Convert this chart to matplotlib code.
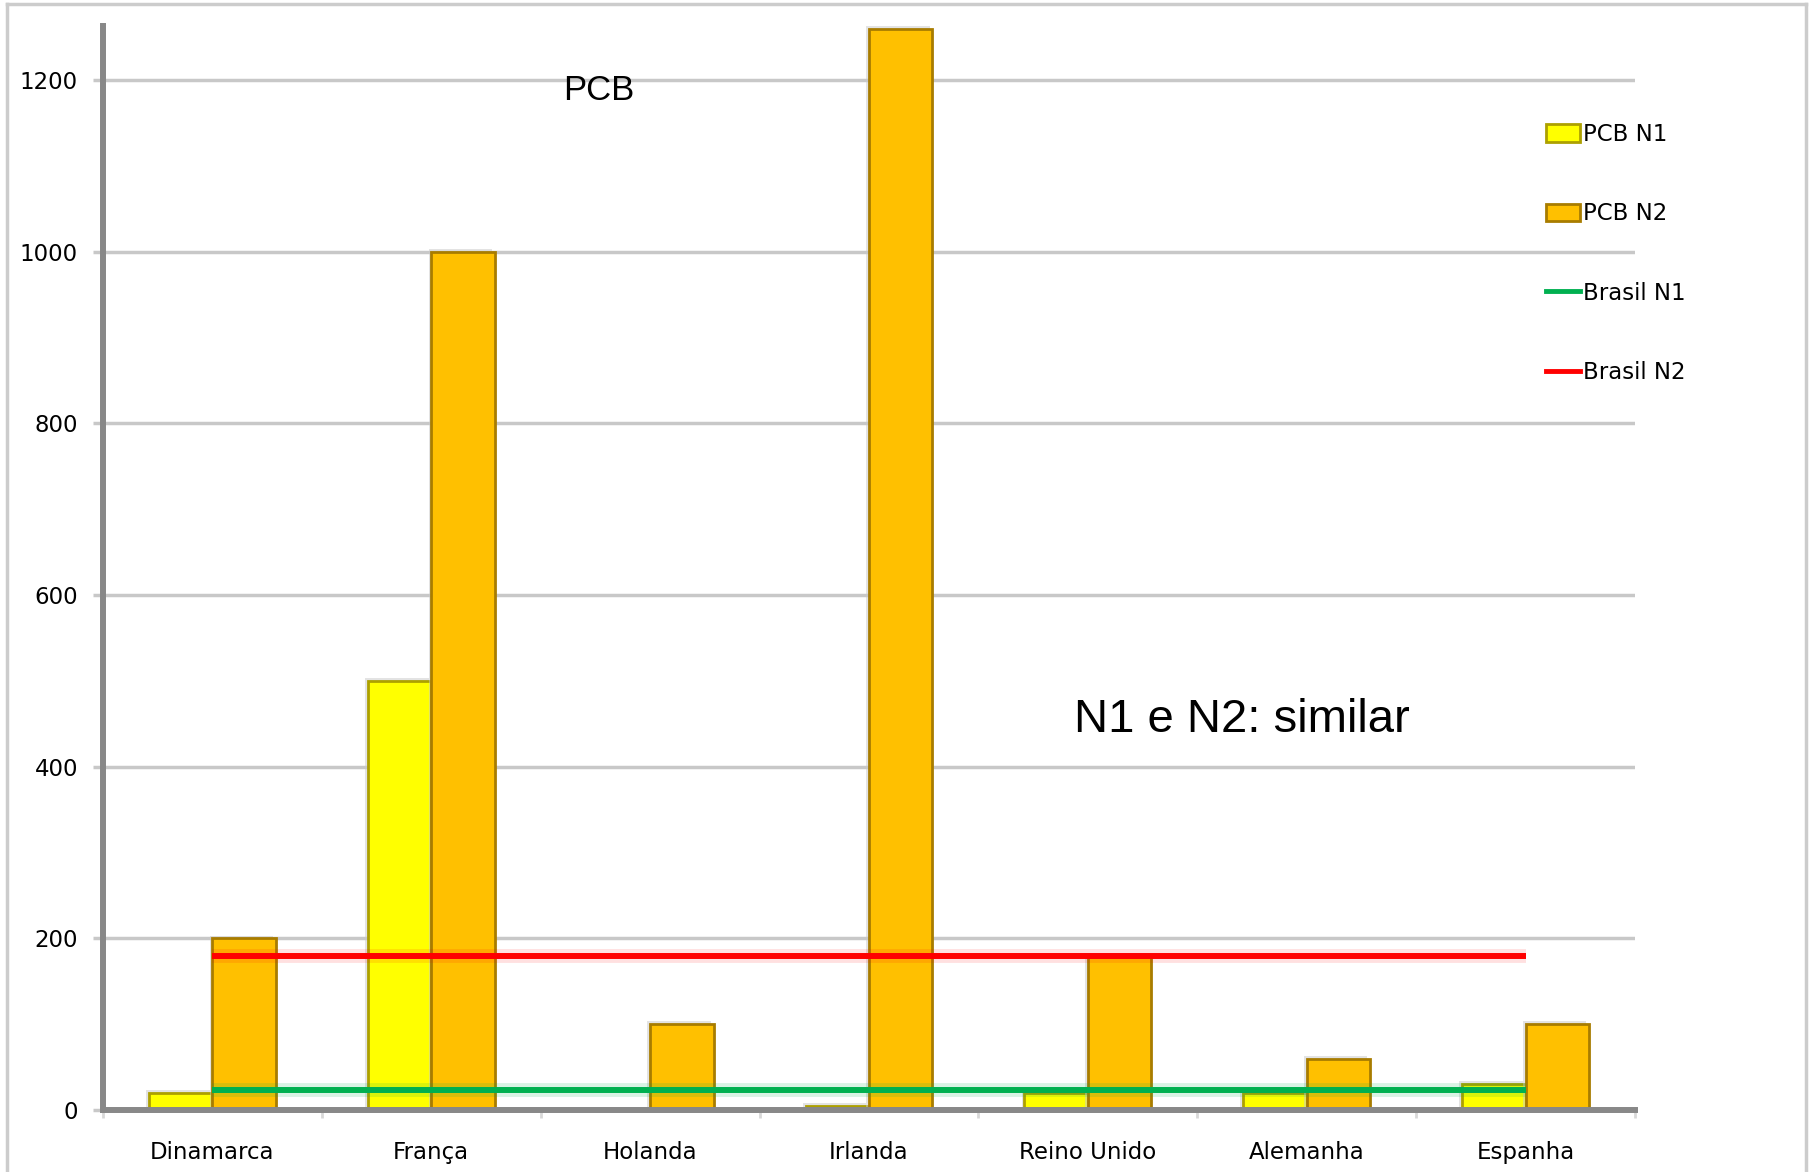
import matplotlib
matplotlib.use("Agg")
import numpy as np
import matplotlib.pyplot as plt
import matplotlib.patheffects as pe
from matplotlib.lines import Line2D
from matplotlib.patches import Patch

# data
countries = ["Dinamarca", "França", "Holanda", "Irlanda", "Reino Unido", "Alemanha", "Espanha"]
pcb_n1 = [20, 500, 0, 5, 20, 20, 30]
pcb_n2 = [200, 1000, 100, 1260, 180, 60, 100]
brasil_n1 = 23
brasil_n2 = 180
y_ticks = [0, 200, 400, 600, 800, 1000, 1200]
legend_labels = ["PCB N1", "PCB N2", "Brasil N1", "Brasil N2"]

W, H = 1812, 1172
fig = plt.figure(figsize=(W / 100, H / 100), dpi=100)
ax = fig.add_axes([103 / W, 62 / H, (1635 - 103) / W, (1110 - 26) / H])

c_n1, e_n1 = "#FFFF00", "#ADA000"
c_n2, e_n2 = "#FFC000", "#A87C00"
c_green, c_red = "#00B050", "#FF0000"

x = np.arange(len(countries))
w = 0.29
shadow = [pe.SimplePatchShadow(offset=(-2, 2), shadow_rgbFace="#c8c8c8", alpha=0.5), pe.Normal()]
ax.bar(x - w / 2, pcb_n1, w, color=c_n1, edgecolor=e_n1, linewidth=2, zorder=2,
       path_effects=shadow)
ax.bar(x + w / 2, pcb_n2, w, color=c_n2, edgecolor=e_n2, linewidth=2, zorder=2,
       path_effects=shadow)

# Brasil reference levels, drawn across the category centres
ax.plot([x[0], x[-1]], [brasil_n1] * 2, color=c_green, lw=10, alpha=0.15,
        solid_capstyle="butt", zorder=3)
ax.plot([x[0], x[-1]], [brasil_n1] * 2, color=c_green, lw=4.3,
        solid_capstyle="butt", zorder=4)
ax.plot([x[0], x[-1]], [brasil_n2] * 2, color=c_red, lw=10, alpha=0.12,
        solid_capstyle="butt", zorder=3)
ax.plot([x[0], x[-1]], [brasil_n2] * 2, color=c_red, lw=4.3,
        solid_capstyle="butt", zorder=4)

ax.set_xlim(-0.5, len(countries) - 0.5)
ax.set_ylim(0, 1263)

ax.set_yticks(y_ticks)
ax.set_yticklabels([str(v) for v in y_ticks])
ax.yaxis.grid(True, color="#c8c8c8", lw=2.5)
ax.set_axisbelow(True)
ax.tick_params(axis="y", length=7, width=2.5, color="#c8c8c8", pad=11, labelsize=16.5)

ax.set_xticks(np.arange(-0.5, len(countries), 1))
ax.set_xticklabels([])
ax.set_xticks(x, minor=True)
ax.set_xticklabels(countries, minor=True)
ax.tick_params(axis="x", which="major", length=6, width=2, color="#d8d8d8")
ax.tick_params(axis="x", which="minor", length=0, pad=22, labelsize=16.5)

for s in ["top", "right"]:
    ax.spines[s].set_visible(False)
for s in ["left", "bottom"]:
    ax.spines[s].set_color("#888888")
    ax.spines[s].set_linewidth(4.3)

handles = [
    Patch(facecolor=c_n1, edgecolor=e_n1, linewidth=2),
    Patch(facecolor=c_n2, edgecolor=e_n2, linewidth=2),
    Line2D([0], [0], color=c_green, lw=3.5),
    Line2D([0], [0], color=c_red, lw=3.5),
]
fig.legend(handles, legend_labels, loc="upper left",
           bbox_to_anchor=(1546 / W, 1 - 123 / H), frameon=False, fontsize=16.5,
           handlelength=1.5, handleheight=0.8, handletextpad=0.1,
           labelspacing=2.46, borderpad=0, borderaxespad=0)

fig.text(599 / W, 1 - 91 / H, "PCB", ha="center", va="center", fontsize=25,
         family=["Liberation Sans", "DejaVu Sans"])
fig.text(1242 / W, 1 - 720 / H, "N1 e N2: similar", ha="center", va="center",
         fontsize=34, family=["Liberation Sans", "DejaVu Sans"])

# light frame around the picture
frame = dict(color="#cccccc", lw=2.5, transform=fig.transFigure)
fig.add_artist(Line2D([7 / W, 7 / W], [0, 1 - 4 / H], **frame))
fig.add_artist(Line2D([7 / W, 1806 / W], [1 - 4 / H, 1 - 4 / H], **frame))
fig.add_artist(Line2D([1806 / W, 1806 / W], [0, 1 - 4 / H], **frame))

fig.savefig("out.png", dpi=100)
